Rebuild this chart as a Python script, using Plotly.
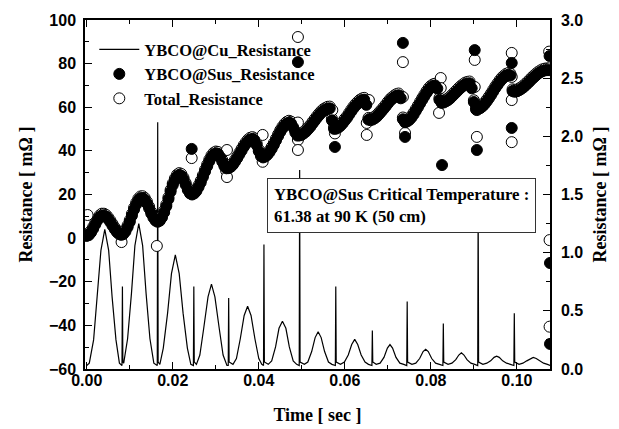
import plotly.graph_objects as go

# ---------------- data ----------------
T_STEP = 0.0005  # sampling step of the dense YBCO@Sus / Total band [s]

# YBCO@Sus resistance, dense band [mOhm], one value every T_STEP from t = 0
sus_band = [
    1.0, 1.4, 2.6, 4.3, 6.3, 8.2, 9.6, 10.4, 10.4, 9.8, 8.7, 7.3, 5.7, 4.1, 2.8, 1.9, 1.5,
    1.8, 3.0, 5.0, 7.4, 10.3, 13.1, 15.4, 17.3, 18.3, 18.4, 17.6, 15.9, 13.7, 11.3, 9.4, 8.0, 7.5,
    8.0, 9.5, 11.8, 14.6, 17.9, 21.3, 24.3, 26.6, 28.3, 29.0, 28.6, 26.9, 24.5, 22.1, 20.5,
    20.0, 20.5, 21.6, 23.4, 25.5, 28.0, 30.5, 32.9, 35.2, 37.1, 38.3, 38.9, 38.7, 37.2, 35.1, 33.0, 32.0,
    32.1, 32.7, 33.7, 35.1, 36.7, 38.4, 40.1, 41.8, 43.2, 44.4, 45.2, 45.5, 44.9, 42.7, 39.8, 37.6,
    37.0, 37.4, 38.2, 39.4, 41.0, 42.8, 44.8, 46.8, 48.7, 50.3, 51.6, 52.5, 53.0, 52.6, 50.8, 48.4, 47.0,
    47.1, 47.4, 48.1, 48.9, 50.0, 51.1, 52.5, 53.8, 55.1, 56.3, 57.4, 58.3, 58.9, 59.4, 59.5, 54.0, 50.1,
    50.2, 50.7, 51.5, 52.6, 53.9, 55.1, 56.6, 58.1, 59.5, 60.7, 61.7, 62.6, 63.2, 63.5, 61.1, 54.3,
    54.1, 54.4, 55.0, 55.8, 56.9, 58.0, 59.2, 60.4, 61.7, 62.9, 63.8, 64.6, 65.2, 65.5, 64.1, 54.5,
    53.1, 53.5, 54.2, 55.3, 56.7, 58.3, 60.0, 61.7, 63.4, 65.0, 66.6, 68.0, 69.0, 69.7, 70.0, 68.6, 63.4,
    62.0, 62.2, 62.7, 63.3, 64.1, 65.1, 66.1, 67.1, 68.1, 69.0, 69.8, 70.5, 70.8, 71.0, 68.7, 62.4, 59.0,
    59.2, 59.6, 60.4, 61.4, 62.7, 64.1, 65.6, 67.2, 68.8, 70.2, 71.6, 72.8, 73.7, 74.5, 74.9, 74.6, 67.4,
    67.1, 67.3, 67.8, 68.4, 69.1, 70.0, 70.9, 71.9, 72.9, 73.8, 74.7, 75.5, 76.1, 76.6, 76.9, 77.0, 77.0,
]

# Total resistance, dense band [mOhm], same sampling
total_band = [
    1.8, 2.2, 3.4, 5.1, 7.1, 9.0, 10.4, 11.2, 11.2, 10.6, 9.5, 8.1, 6.5, 4.9, 3.6, 2.7, 2.3,
    2.6, 3.8, 5.8, 8.2, 11.1, 13.9, 16.2, 18.1, 19.1, 19.2, 18.4, 16.7, 14.5, 12.1, 10.2, 8.8, 8.3,
    8.8, 10.3, 12.6, 15.4, 18.7, 22.1, 25.1, 27.4, 29.1, 29.8, 29.4, 27.7, 25.3, 22.9, 21.3,
    20.8, 21.3, 22.4, 24.2, 26.3, 28.8, 31.3, 33.7, 36.0, 37.9, 39.1, 39.7, 39.5, 38.0, 35.9, 33.8, 32.8,
    32.9, 33.5, 34.5, 35.9, 37.5, 39.2, 40.9, 42.6, 44.0, 45.2, 46.0, 46.3, 45.7, 43.5, 40.6, 38.4,
    37.8, 38.2, 39.0, 40.2, 41.8, 43.6, 45.6, 47.6, 49.5, 51.1, 52.4, 53.3, 53.8, 53.4, 51.6, 49.2, 47.8,
    47.9, 48.2, 48.9, 49.7, 50.8, 51.9, 53.3, 54.6, 55.9, 57.1, 58.2, 59.1, 59.7, 60.2, 60.3, 54.8, 50.9,
    51.0, 51.5, 52.3, 53.4, 54.7, 55.9, 57.4, 58.9, 60.3, 61.5, 62.5, 63.4, 64.0, 64.3, 61.9, 55.1,
    54.9, 55.2, 55.8, 56.6, 57.7, 58.8, 60.0, 61.2, 62.5, 63.7, 64.6, 65.4, 66.0, 66.3, 64.9, 55.3,
    53.9, 54.3, 55.0, 56.1, 57.5, 59.1, 60.8, 62.5, 64.2, 65.8, 67.4, 68.8, 69.8, 70.5, 70.8, 69.4, 64.2,
    62.8, 63.0, 63.5, 64.1, 64.9, 65.9, 66.9, 67.9, 68.9, 69.8, 70.6, 71.3, 71.6, 71.8, 69.5, 63.2, 59.8,
    60.0, 60.4, 61.2, 62.2, 63.5, 64.9, 66.4, 68.0, 69.6, 71.0, 72.4, 73.6, 74.5, 75.3, 75.7, 75.4, 68.2,
    67.9, 68.1, 68.6, 69.2, 69.9, 70.8, 71.7, 72.7, 73.7, 74.6, 75.5, 76.3, 76.9, 77.4, 77.7, 77.8, 77.8,
]

# scattered (glitch) samples at the switching instants
sus_out_t = [0.0244, 0.0491, 0.0577, 0.0735, 0.0740, 0.0826, 0.0902, 0.0907,
             0.0988, 0.0988, 0.1076, 0.1077, 0.1077]
sus_out_v = [40.9, 80.7, 41.8, 89.5, 46.4, 33.5, 86.2, 40.4,
             80.3, 50.5, 83.5, -11.4, -48.5]
tot_out_t = [0.0002, 0.0081, 0.0163, 0.0244, 0.0326, 0.0324, 0.0326, 0.0409, 0.0409,
             0.0491, 0.0491, 0.0491, 0.0491, 0.0571, 0.0577, 0.0656, 0.0651, 0.0651,
             0.0735, 0.0735, 0.0740, 0.0823, 0.0823, 0.0819, 0.0902, 0.0902, 0.0907, 0.0907,
             0.0988, 0.0988, 0.0988, 0.0988, 0.1075, 0.1076, 0.1076]
tot_out_v = [10.6, -1.8, -3.6, 36.7, 40.4, 31.0, 28.0, 47.3, 35.0,
             92.2, 53.0, 45.0, 40.4, 58.7, 48.0, 63.3, 52.8, 47.3,
             80.7, 64.7, 48.2, 73.4, 68.8, 57.4, 81.7, 69.3, 58.7, 46.4,
             84.9, 73.9, 63.3, 44.0, 85.5, -0.9, -40.6]

# YBCO@Cu resistance (right axis, mOhm)
cu_t = [
    0.0000, 0.0006, 0.0016, 0.0025, 0.0033, 0.0042, 0.0051, 0.0059, 0.0068, 0.0076, 0.0081,
    0.0082, 0.0083, 0.0084,
    0.0086, 0.0095, 0.0104, 0.0112, 0.0121, 0.0130, 0.0138, 0.0147, 0.0156, 0.0163,
    0.0164, 0.0165, 0.0166,
    0.0170, 0.0178, 0.0188, 0.0197, 0.0206, 0.0215, 0.0224, 0.0234, 0.0242, 0.0247,
    0.0248, 0.0249, 0.0250,
    0.0255, 0.0263, 0.0272, 0.0282, 0.0290, 0.0298, 0.0308, 0.0317, 0.0326,
    0.0329, 0.0330, 0.0331,
    0.0340, 0.0348, 0.0357, 0.0366, 0.0374, 0.0382, 0.0391, 0.0400, 0.0407,
    0.0411, 0.0412, 0.0413,
    0.0422, 0.0430, 0.0439, 0.0447, 0.0455, 0.0463, 0.0471, 0.0480, 0.0488,
    0.0494, 0.0495, 0.0496,
    0.0506, 0.0514, 0.0523, 0.0531, 0.0538, 0.0545, 0.0553, 0.0562, 0.0570,
    0.0578, 0.0579, 0.0580,
    0.0590, 0.0599, 0.0608, 0.0616, 0.0623, 0.0630, 0.0638, 0.0647, 0.0655,
    0.0663, 0.0664, 0.0665,
    0.0673, 0.0682, 0.0691, 0.0699, 0.0705, 0.0711, 0.0719, 0.0728, 0.0737,
    0.0744, 0.0745, 0.0746,
    0.0756, 0.0765, 0.0774, 0.0782, 0.0788, 0.0794, 0.0802, 0.0811, 0.0820,
    0.0828, 0.0829, 0.0830,
    0.0840, 0.0849, 0.0858, 0.0865, 0.0871, 0.0877, 0.0884, 0.0893, 0.0902,
    0.0909, 0.0910, 0.0911,
    0.0921, 0.0930, 0.0939, 0.0947, 0.0953, 0.0959, 0.0967, 0.0976, 0.0985,
    0.0993, 0.0994, 0.0995,
    0.1005, 0.1014, 0.1023, 0.1031, 0.1038, 0.1045, 0.1053, 0.1062, 0.1071, 0.1078,
]
cu_r = [
    0.03, 0.05, 0.25, 0.62, 1.02, 1.20, 1.02, 0.62, 0.25, 0.05, 0.03,
    0.03, 0.71, 0.06,
    0.05, 0.26, 0.65, 1.06, 1.25, 1.06, 0.65, 0.26, 0.05, 0.03,
    0.03, 2.12, 0.06,
    0.04, 0.18, 0.48, 0.82, 0.98, 0.82, 0.48, 0.18, 0.04, 0.03,
    0.03, 0.71, 0.06,
    0.04, 0.12, 0.35, 0.62, 0.73, 0.62, 0.35, 0.12, 0.03,
    0.03, 0.61, 0.06,
    0.04, 0.09, 0.26, 0.46, 0.54, 0.46, 0.26, 0.09, 0.04,
    0.03, 1.07, 0.06,
    0.04, 0.07, 0.19, 0.35, 0.41, 0.35, 0.19, 0.07, 0.04,
    0.03, 1.71, 0.06,
    0.04, 0.06, 0.15, 0.27, 0.32, 0.27, 0.15, 0.06, 0.04,
    0.03, 0.71, 0.06,
    0.04, 0.06, 0.12, 0.21, 0.255, 0.21, 0.12, 0.06, 0.04,
    0.03, 0.33, 0.06,
    0.04, 0.05, 0.10, 0.18, 0.21, 0.18, 0.10, 0.05, 0.04,
    0.03, 0.58, 0.06,
    0.04, 0.05, 0.09, 0.15, 0.17, 0.15, 0.09, 0.05, 0.04,
    0.03, 0.39, 0.06,
    0.04, 0.05, 0.08, 0.12, 0.14, 0.12, 0.08, 0.05, 0.04,
    0.03, 1.45, 0.06,
    0.04, 0.05, 0.07, 0.10, 0.11, 0.10, 0.07, 0.05, 0.04,
    0.03, 0.48, 0.06,
    0.04, 0.05, 0.07, 0.09, 0.10, 0.09, 0.07, 0.05, 0.04, 0.03,
]

x_tickvals = [0.00, 0.02, 0.04, 0.06, 0.08, 0.10]
left_tickvals = [-60, -40, -20, 0, 20, 40, 60, 80, 100]
right_tickvals = [0.0, 0.5, 1.0, 1.5, 2.0, 2.5, 3.0]

note_lines = ["YBCO@Sus Critical Temperature :", "61.38 at 90 K (50 cm)"]

# ---------------- build ----------------
t_sus = [round(i * T_STEP, 4) for i in range(len(sus_band))] + sus_out_t
v_sus = sus_band + sus_out_v
t_tot = [round(i * T_STEP, 4) for i in range(len(total_band))] + tot_out_t
v_tot = total_band + tot_out_v

serif = "Liberation Serif"
sans = "Liberation Sans"
tickfont = dict(family=sans, size=16, color="black", weight="bold")
titlefont = dict(family=serif, size=18, color="black", weight="bold")

fig = go.Figure()
fig.add_trace(go.Scatter(
    x=cu_t, y=cu_r, mode="lines", name="YBCO@Cu_Resistance",
    line=dict(color="black", width=1.2), yaxis="y", legendrank=1))
# open circles drawn first, filled circles on top (band looks black)
fig.add_trace(go.Scatter(
    x=t_tot, y=v_tot, mode="markers", name="Total_Resistance",
    marker=dict(symbol="circle", size=11, color="white",
                line=dict(color="black", width=1)), yaxis="y2", legendrank=3))
fig.add_trace(go.Scatter(
    x=t_sus, y=v_sus, mode="markers", name="YBCO@Sus_Resistance",
    marker=dict(symbol="circle", size=11, color="black",
                line=dict(color="black", width=1)), yaxis="y2", legendrank=2))

axis_common = dict(showline=True, linecolor="black", linewidth=1.5,
                   showgrid=False, zeroline=False, ticks="inside", automargin=False,
                   tickcolor="black", tickwidth=1.2, ticklen=7, tickfont=tickfont)

fig.update_layout(
    width=619, height=429,
    margin=dict(l=85, r=69, t=20, b=60),
    paper_bgcolor="white", plot_bgcolor="white",
    xaxis=dict(range=[-0.0004, 0.1077], tickvals=x_tickvals, tickformat=".2f",
               mirror="ticks", ticklabelstandoff=-4,
               minor=dict(dtick=0.01, ticks="inside", ticklen=4, tickcolor="black"),
               title=dict(text="Time [ sec ]", font=titlefont, standoff=20),
               **axis_common),
    yaxis=dict(side="right", range=[0, 3], tickvals=right_tickvals, tickformat=".1f",
               minor=dict(dtick=0.25, ticks="inside", ticklen=4, tickcolor="black"),
               ticklabelstandoff=6,
               title=dict(text="Resistance [ mΩ ]", font=titlefont, standoff=11),
               **axis_common),
    yaxis2=dict(overlaying="y", side="left", range=[-60, 100], tickvals=left_tickvals,
                minor=dict(dtick=10, ticks="inside", ticklen=4, tickcolor="black"),
                ticklabelstandoff=4,
                title=dict(text="Resistance [ mΩ ]", font=titlefont, standoff=12),
                **axis_common),
    legend=dict(x=0.02, y=0.965, xanchor="left", yanchor="top",
                bgcolor="rgba(0,0,0,0)", borderwidth=0, itemwidth=40,
                font=dict(family=serif, size=16.5, color="black", weight="bold"),
                tracegroupgap=0),
    annotations=[dict(
        xref="paper", yref="paper", x=0.392, y=0.547, xanchor="left", yanchor="top",
        text="<br>".join(note_lines), align="left", showarrow=False,
        font=dict(family=serif, size=16.8, color="black", weight="bold"),
        bgcolor="white", bordercolor="#333333", borderwidth=1, borderpad=6)],
)

fig.write_html("out.html", config={"displayModeBar": False},
               post_script="document.body.style.margin='0px';")
